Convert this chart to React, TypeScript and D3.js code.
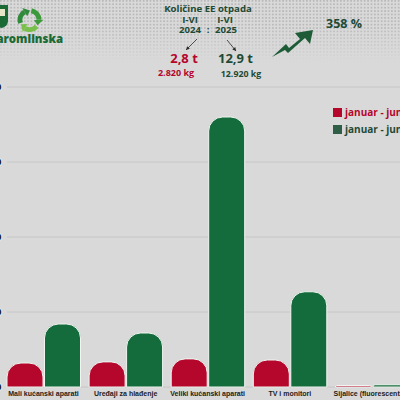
import { useEffect, useRef } from "react";
import * as d3 from "d3";

const categories = ["Mali kućanski aparati", "Uređaji za hlađenje", "Veliki kućanski aparati", "TV i monitori", "Sijalice (fluorescentne)"];
const values2024 = [640, 670, 750, 720, 40];
const values2025 = [1680, 1440, 7200, 2540, 60];
const yTicks = [0, 2000, 4000, 6000, 8000];

const W = 400;
const H = 400;
const RED = "#b5062c";
const GREEN = "#146c3c";
const DARK = "#1f4a35";
const FONT = "'Open Sans', sans-serif";

// bar with rounded top corners, bottom flat on the baseline
function barPath(x: number, w: number, y: number, base: number) {
  const r = Math.min(14, base - y);
  return `M${x},${base}V${y + r}A${r},${r} 0 0 1 ${x + r},${y}H${x + w - r}A${r},${r} 0 0 1 ${x + w},${y + r}V${base}Z`;
}

export default function App() {
  const svgRef = useRef<SVGSVGElement>(null);

  useEffect(() => {
    if (!svgRef.current) return;
    const svg = d3.select(svgRef.current);
    svg.selectAll("*").remove();

    svg.append("rect").attr("width", W).attr("height", H).attr("fill", "#d9d9d9");

    // dotted band behind the header
    const defs = svg.append("defs");
    defs
      .append("pattern")
      .attr("id", "dots")
      .attr("width", 3.4)
      .attr("height", 3.4)
      .attr("patternUnits", "userSpaceOnUse")
      .append("rect")
      .attr("width", 1.7)
      .attr("height", 1.7)
      .attr("fill", "#b9b9b9");
    const fade = defs.append("linearGradient").attr("id", "fade").attr("x1", 0).attr("x2", 0).attr("y1", 0).attr("y2", 1);
    fade.append("stop").attr("offset", 0.4).attr("stop-color", "#fff").attr("stop-opacity", 1);
    fade.append("stop").attr("offset", 1).attr("stop-color", "#fff").attr("stop-opacity", 0);
    defs.append("mask").attr("id", "fadeMask").append("rect").attr("width", W).attr("height", 62).attr("fill", "url(#fade)");
    svg.append("rect").attr("width", W).attr("height", 62).attr("fill", "url(#dots)").attr("mask", "url(#fadeMask)");

    const y = d3.scaleLinear().domain([0, 8000]).range([387, 87]);
    const x0 = d3.scaleBand<string>().domain(categories).range([2.5, 413]).paddingInner(0).paddingOuter(0);
    const x1 = d3.scaleBand<string>().domain(["2024", "2025"]).range([4.5, 78]).paddingInner(0.04);

    svg
      .append("g")
      .selectAll("line")
      .data(yTicks)
      .join("line")
      .attr("x1", 7)
      .attr("x2", W)
      .attr("y1", (d) => y(d))
      .attr("y2", (d) => y(d))
      .attr("stroke", "#c6c6c6")
      .attr("stroke-width", 1);

    // y labels are cut off by the picture's left edge, only the last digit shows
    svg
      .append("g")
      .selectAll("text")
      .data(yTicks)
      .join("text")
      .attr("x", 1.5)
      .attr("y", (d) => y(d) + 3)
      .attr("text-anchor", "end")
      .attr("font-family", FONT)
      .attr("font-size", 9)
      .attr("font-weight", 700)
      .attr("fill", "#111")
      .attr("stroke", "#e8e8e8")
      .attr("stroke-width", 2)
      .attr("paint-order", "stroke")
      .text((d) => d3.format(",")(d).replace(",", "."));

    const series: [string, number[], string][] = [
      ["2024", values2024, RED],
      ["2025", values2025, GREEN],
    ];
    series.forEach(([key, vals, color]) => {
      svg
        .append("g")
        .selectAll("path")
        .data(vals)
        .join("path")
        .attr("d", (d, i) => barPath((x0(categories[i]) ?? 0) + (x1(key) ?? 0), x1.bandwidth(), y(d), y(0)))
        .attr("fill", color)
        .attr("stroke", "#f1f5f1")
        .attr("stroke-width", 1);
    });

    svg
      .append("g")
      .selectAll("text")
      .data(categories)
      .join("text")
      .attr("x", (d) => (x0(d) ?? 0) + 41)
      .attr("y", 396)
      .attr("text-anchor", "middle")
      .attr("font-family", "'Liberation Sans', sans-serif")
      .attr("font-size", 7)
      .attr("font-weight", 700)
      .attr("fill", "#1c1c1c")
      .text((d) => d);

    // legend
    const legend: [number, string][] = [
      [112.5, RED],
      [129.5, "#2e5e46"],
    ];
    legend.forEach(([ly, color]) => {
      svg.append("rect").attr("x", 333).attr("y", ly - 4.5).attr("width", 9).attr("height", 9).attr("fill", color);
      svg
        .append("text")
        .attr("x", 345)
        .attr("y", ly + 3.5)
        .attr("font-family", FONT)
        .attr("font-size", 10)
        .attr("font-weight", 700)
        .attr("fill", color === RED ? RED : DARK)
        .text("januar - jun");
    });

    // header
    const header = (text: string, tx: number, ty: number, size: number, fill: string) =>
      svg
        .append("text")
        .attr("x", tx)
        .attr("y", ty)
        .attr("text-anchor", "middle")
        .attr("font-family", FONT)
        .attr("font-size", size)
        .attr("font-weight", 700)
        .attr("fill", fill)
        .text(text);

    header("Količine EE otpada", 208, 12, 9.6, DARK);
    header("I-VI", 190, 22.5, 9.6, DARK);
    header("I-VI", 225, 22.5, 9.6, DARK);
    header("2024", 190, 33, 9.6, DARK);
    header(":", 208, 33, 9.6, DARK);
    header("2025", 226, 33, 9.6, DARK);
    header("2,8 t", 184, 63, 13, RED);
    header("2.820 kg", 176, 76, 9, RED);
    header("12,9 t", 235.5, 63, 13, DARK);
    header("12.920 kg", 241, 77, 8.8, DARK);
    header("358 %", 344, 27.5, 12.5, DARK);

    // small arrows under the years
    const arrows: [number, number, number, number][] = [
      [197, 39, 186, 50],
      [227, 40, 236, 51],
    ];
    arrows.forEach(([ax, ay, bx, by]) => {
      const a = Math.atan2(by - ay, bx - ax);
      svg.append("line").attr("x1", ax).attr("y1", ay).attr("x2", bx).attr("y2", by).attr("stroke", "#2a2a2a").attr("stroke-width", 0.8);
      svg
        .append("path")
        .attr("d", d3.line()([
          [bx, by],
          [bx - 4 * Math.cos(a - 0.5), by - 4 * Math.sin(a - 0.5)],
          [bx - 4 * Math.cos(a + 0.5), by - 4 * Math.sin(a + 0.5)],
        ]) + "Z")
        .attr("fill", "#2a2a2a");
    });

    // big growth arrow
    svg
      .append("path")
      .attr("d", "M272,57 L286,44 L289,48 L300,39 L295,33 L313,30 L310,44 L305,38 L288,53 L285,50 Z")
      .attr("fill", "#1e5c38");

    // logo: shield, recycling arrows and name
    svg
      .append("path")
      .attr("d", "M-3,5H8V21Q8,26 2,28Q-3,27 -3,24Z")
      .attr("fill", "#1a6a35");
    svg.append("rect").attr("x", -3).attr("y", 9).attr("width", 8).attr("height", 7).attr("fill", "#e6e6c8");

    const arc = d3.arc();
    const ringColors = ["#3d9a3c", "#79bf4b", "#2f8a3a"];
    ringColors.forEach((c, i) => {
      const start = (i * 2 * Math.PI) / 3 + 0.2;
      const end = start + 1.35;
      const g = svg.append("g").attr("transform", "translate(29.5,20)");
      g.append("path")
        .attr("d", arc({ innerRadius: 7, outerRadius: 12, startAngle: start, endAngle: end }) ?? "")
        .attr("fill", c);
      // d3 arc angles run clockwise from 12 o'clock
      const pt = (r: number, t: number): [number, number] => [r * Math.sin(t), -r * Math.cos(t)];
      g.append("path")
        .attr("d", d3.line()([pt(4.5, end), pt(14, end), pt(9.5, end + 0.6)]) + "Z")
        .attr("fill", c);
    });

    svg
      .append("text")
      .attr("x", 63)
      .attr("y", 43)
      .attr("text-anchor", "end")
      .attr("font-family", FONT)
      .attr("font-size", 11.4)
      .attr("font-weight", 800)
      .attr("fill", "#1a6a35")
      .text("Jaromlinska");
  }, []);

  return <svg ref={svgRef} width={W} height={H} style={{ position: "fixed", left: 0, top: 0 }} viewBox={`0 0 ${W} ${H}`} />;
}
